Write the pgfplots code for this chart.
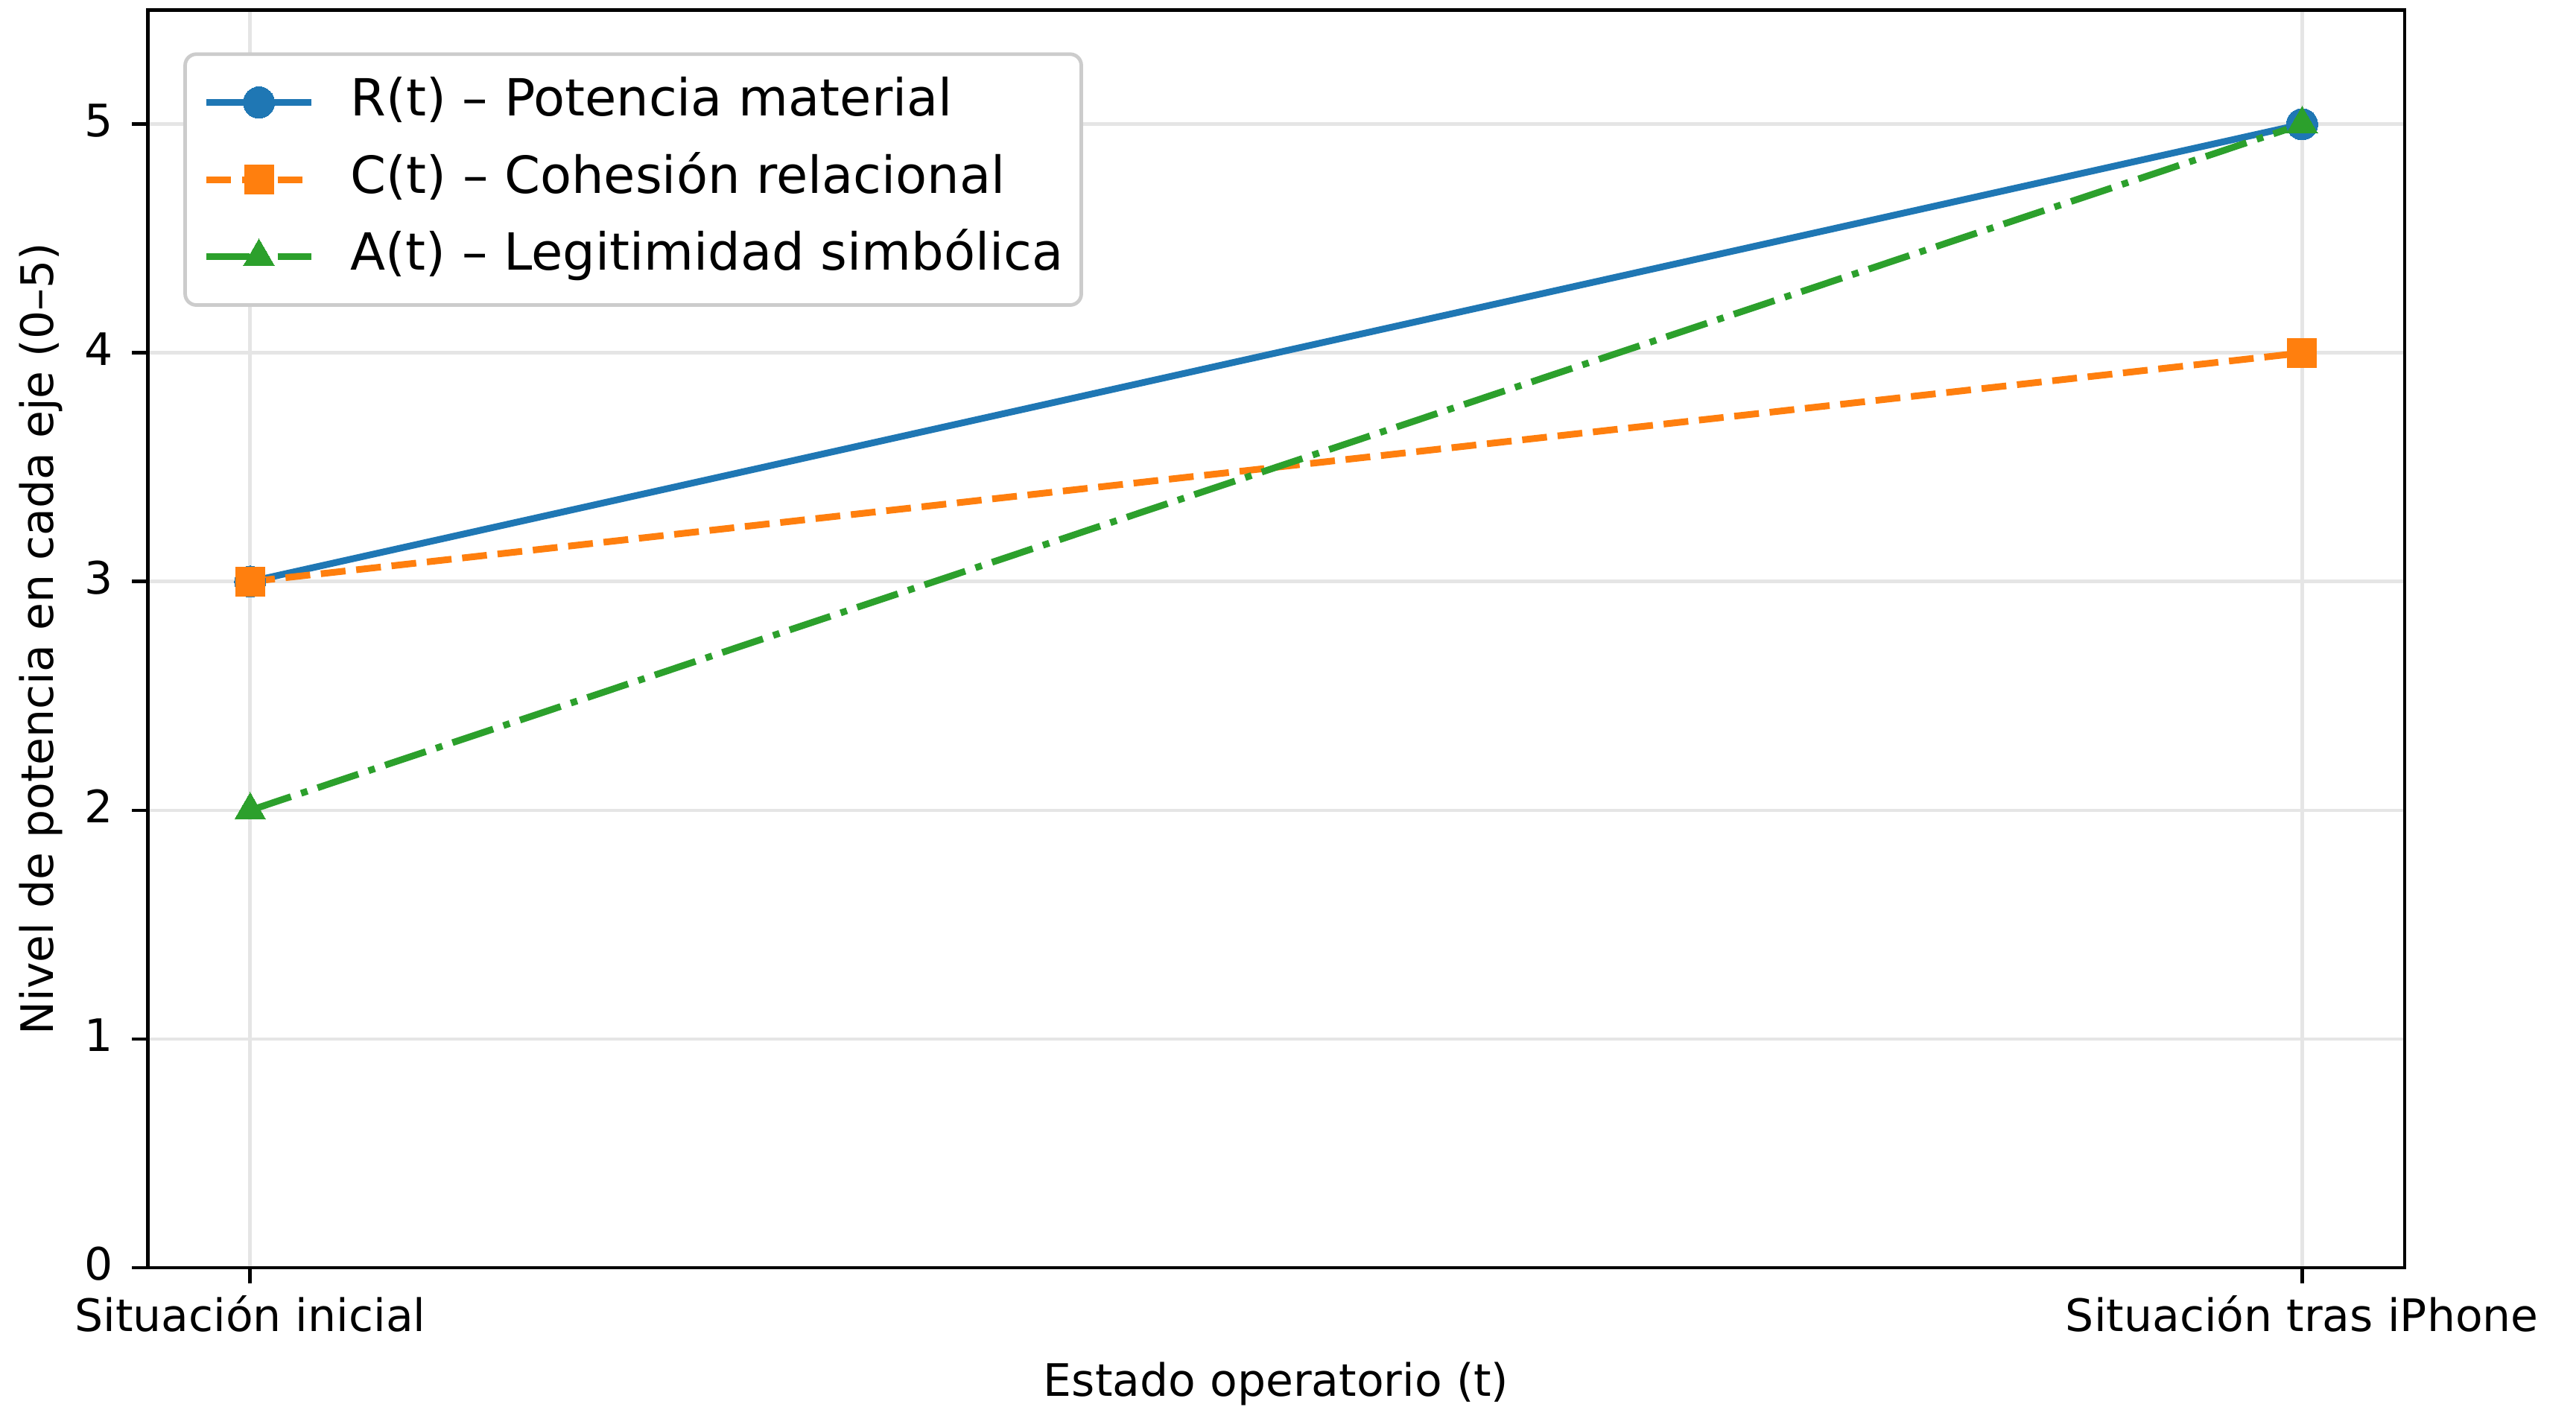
\documentclass[border=0pt]{standalone}
\usepackage{fontspec}
\setmainfont{DejaVu Sans}
\usepackage{pgfplots}
\pgfplotsset{compat=1.18}
\definecolor{tabblue}{RGB}{31,119,180}
\definecolor{taborange}{RGB}{255,127,14}
\definecolor{tabgreen}{RGB}{44,160,44}
\definecolor{gridgray}{RGB}{229,229,229}
\definecolor{legframe}{RGB}{204,204,204}
\begin{document}
\begin{tikzpicture}
\begin{axis}[
  scale only axis,
  width=504.7pt, height=281.3pt,
  xmin=-0.05, xmax=1.05,
  ymin=0, ymax=5.5,
  xtick={0,1},
  xticklabels={Situación inicial, Situación tras iPhone},
  ytick={0,1,2,3,4,5},
  tick align=outside,
  xtick pos=bottom, ytick pos=left,
  major tick length=3.5pt,
  every tick/.style={black, line width=0.8pt},
  axis line style={line width=0.8pt},
  grid=major,
  major grid style={gridgray, line width=0.8pt},
  /pgf/number format/assume math mode=true,
  tick label style={font=\fontsize{10}{12}\selectfont},
  xticklabel style={anchor=base, inner sep=0pt, yshift=-10.8pt},
  yticklabel style={anchor=mid east, inner sep=0pt, xshift=-4pt},
  label style={font=\fontsize{10}{12}\selectfont},
  xlabel={Estado operatorio (t)},
  ylabel={Nivel de potencia en cada eje (0–5)},
  xlabel style={at={(axis description cs:0.5,-0.102)}, anchor=base, inner sep=0pt},
  ylabel style={at={(axis description cs:-0.0472,0.5)}, anchor=center, inner sep=0pt},
  legend style={
    at={(axis description cs:0.01585,0.9662)}, anchor=north west,
    font=\fontsize{11.45}{13.7}\selectfont,
    draw=legframe, line width=0.8pt, rounded corners=2.5pt, fill=white,
    inner xsep=4pt, inner ysep=5.3pt,
    row sep=6.25pt, column sep=8pt,
    nodes={inner sep=0pt, text height=8.5pt, text depth=2.5pt},
    cells={anchor=base west},
  },
  legend cell align=left,
  legend image code/.code={
    \draw[mark repeat=2,mark phase=2,#1] plot coordinates {(0pt,0pt) (11.75pt,0pt) (23.5pt,0pt)};
  },
]
\addplot[tabblue, line width=1.5pt, mark=*, mark size=3.5pt, mark options={solid, fill=tabblue, draw=tabblue, line width=0pt}]
  coordinates {(0,3) (1,5)};
\addlegendentry{R(t) – Potencia material}
\addplot[taborange, line width=1.5pt, dash pattern=on 5.55pt off 2.4pt, mark=square*, mark size=3.25pt, mark options={solid, fill=taborange, draw=taborange, line width=0pt}]
  coordinates {(0,3) (1,4)};
\addlegendentry{C(t) – Cohesión relacional}
\addplot[tabgreen, line width=1.5pt, dash pattern=on 9.6pt off 2.4pt on 1.5pt off 2.4pt, mark=triangle*, mark size=4pt, mark options={solid, fill=tabgreen, draw=tabgreen, line width=0pt}]
  coordinates {(0,2) (1,5)};
\addlegendentry{A(t) – Legitimidad simbólica}
\end{axis}
\path (-33pt,-31pt) rectangle (543pt,283.5pt);
\end{tikzpicture}
\end{document}
